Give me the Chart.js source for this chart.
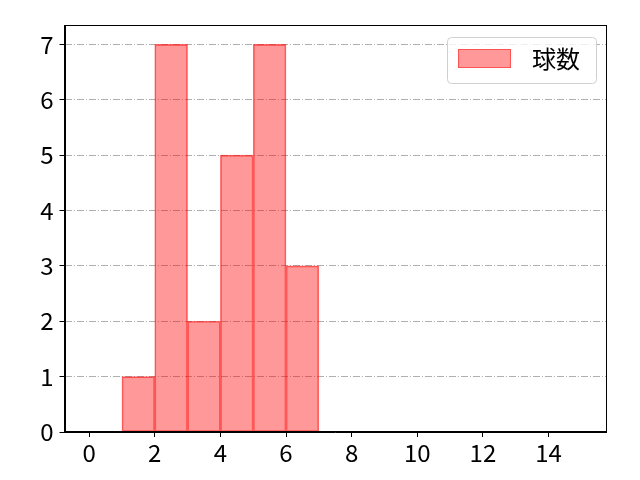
<!DOCTYPE html>
<html>
<head>
<meta charset="utf-8">
<script src="https://cdn.jsdelivr.net/npm/chart.js@4"></script>
<style>
html,body{margin:0;padding:0;background:#fff;}
#wrap{width:640px;height:480px;}
</style>
</head>
<body>
<div id="wrap"><canvas id="c" width="640" height="480"></canvas></div>
<script>
const binStarts = [1, 2, 3, 4, 5, 6];
const binEnds = [2, 3, 4, 5, 6, 7];
const counts = [1, 7, 2, 5, 7, 3];
const seriesLabel = '球数';
const xTicks = [0, 2, 4, 6, 8, 10, 12, 14];
const yTicks = [0, 1, 2, 3, 4, 5, 6, 7];

const FONT = '"Noto Sans CJK JP", "DejaVu Sans", sans-serif';
const FILL = 'rgba(255,0,0,0.4)';
const EDGE = 'rgba(255,0,0,0.58)';

const points = binStarts.map((s, i) => ({x: (s + binEnds[i]) / 2, y: counts[i]}));

const frameAndLegend = {
  id: 'frameAndLegend',
  afterDatasetsDraw(chart) {
    const {ctx, chartArea: a} = chart;
    ctx.save();
    ctx.strokeStyle = '#000';
    ctx.lineWidth = 1;
    ctx.strokeRect(Math.round(a.left) + 0.5, Math.round(a.top) + 0.5,
                   Math.round(a.right - a.left) - 1, Math.round(a.bottom - a.top) - 1);
    // legend box
    const bx = 447.5, by = 37.5, bw = 149, bh = 46, r = 4;
    ctx.beginPath();
    ctx.moveTo(bx + r, by);
    ctx.lineTo(bx + bw - r, by);
    ctx.quadraticCurveTo(bx + bw, by, bx + bw, by + r);
    ctx.lineTo(bx + bw, by + bh - r);
    ctx.quadraticCurveTo(bx + bw, by + bh, bx + bw - r, by + bh);
    ctx.lineTo(bx + r, by + bh);
    ctx.quadraticCurveTo(bx, by + bh, bx, by + bh - r);
    ctx.lineTo(bx, by + r);
    ctx.quadraticCurveTo(bx, by, bx + r, by);
    ctx.closePath();
    ctx.fillStyle = 'rgba(255,255,255,0.8)';
    ctx.fill();
    ctx.strokeStyle = '#d0d0d0';
    ctx.stroke();
    // patch
    ctx.fillStyle = FILL;
    ctx.fillRect(458, 49, 53, 19);
    ctx.strokeStyle = 'rgba(255,0,0,0.45)';
    ctx.strokeRect(458.5, 49.5, 52, 18);
    // text
    ctx.fillStyle = '#000';
    ctx.font = '24px ' + FONT;
    ctx.textBaseline = 'middle';
    ctx.textAlign = 'left';
    ctx.fillText(chart.data.datasets[0].label, 532, 59);
    ctx.restore();
  }
};

new Chart(document.getElementById('c'), {
  type: 'bar',
  data: {
    datasets: [{
      label: seriesLabel,
      data: points,
      backgroundColor: FILL,
      borderColor: EDGE,
      borderWidth: 1,
      borderSkipped: false,
      barPercentage: 1,
      categoryPercentage: 1
    }]
  },
  options: {
    responsive: false,
    animation: false,
    devicePixelRatio: 1,
    layout: {padding: {left: 0, right: 34, top: 25, bottom: 0}},
    plugins: {legend: {display: false}, tooltip: {enabled: false}},
    scales: {
      x: {
        type: 'linear',
        offset: false,
        min: -0.75,
        max: 15.75,
        afterBuildTicks(s) { s.ticks = xTicks.map(v => ({value: v})); },
        afterFit(s) { s.height = 48; },
        grid: {offset: false, drawOnChartArea: false, tickLength: 5, tickColor: '#000', color: '#000'},
        border: {display: true, color: '#000'},
        ticks: {color: '#000', font: {family: FONT, size: 24}, padding: 1, maxRotation: 0, autoSkip: false}
      },
      y: {
        type: 'linear',
        min: 0,
        max: 7.35,
        afterBuildTicks(s) { s.ticks = yTicks.map(v => ({value: v})); },
        afterFit(s) { s.width = 64.5; },
        grid: {
          color: '#b0b0b0',
          lineWidth: 1,
          tickLength: 5,
          tickColor: '#000',
          tickBorderDash: []
        },
        border: {display: true, color: '#000', dash: [7, 2, 1, 2]},
        ticks: {color: '#000', font: {family: FONT, size: 24}, padding: 6, autoSkip: false}
      }
    }
  },
  plugins: [frameAndLegend]
});
</script>
</body>
</html>
